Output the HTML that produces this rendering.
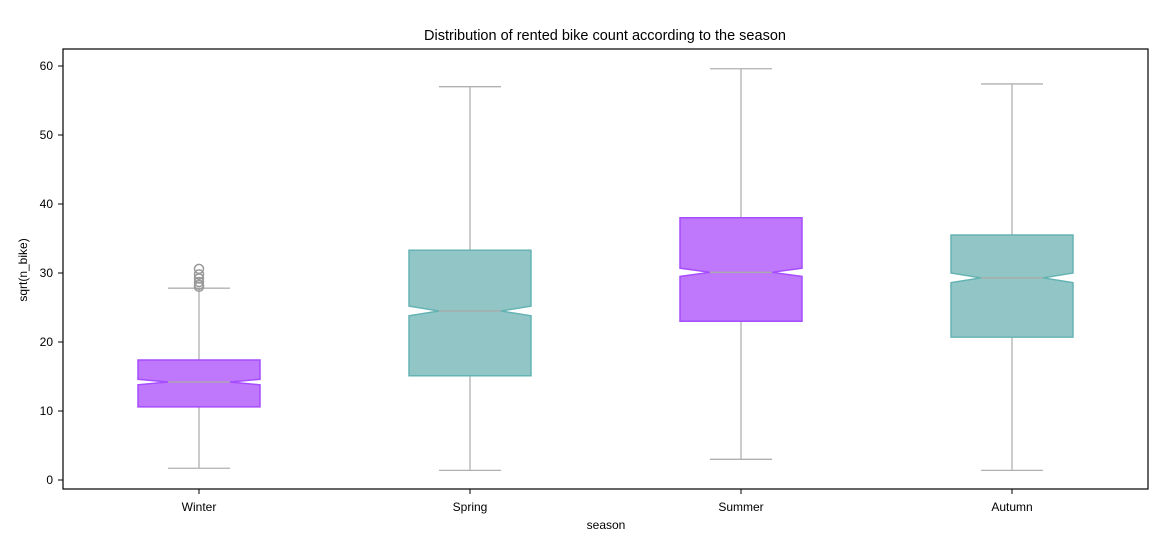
<!DOCTYPE html>
<html><head><meta charset="utf-8"><style>body{margin:0;background:#fff}svg{display:block;font-family:"Liberation Sans","DejaVu Sans",sans-serif}</style></head>
<body>
<svg id="chart" width="1175" height="557" xmlns="http://www.w3.org/2000/svg">
<rect width="1175" height="557" fill="#fff"/>
<text x="605" y="40" font-size="14.5" text-anchor="middle">Distribution of rented bike count according to the season</text>
<g id="plot"></g>
<rect x="63" y="49" width="1085" height="440" fill="none" stroke="#000" stroke-width="1.2"/>
<text x="606" y="529" font-size="12" text-anchor="middle">season</text>
<text transform="translate(27,270) rotate(-90)" font-size="12" text-anchor="middle">sqrt(n_bike)</text>
</svg>
<script>
const categories=["Winter","Spring","Summer","Autumn"];
const q1=[10.6,15.1,23.0,20.7];
const q3=[17.4,33.3,38.0,35.5];
const medians=[14.2,24.5,30.1,29.3];
const notchLo=[13.8,23.8,29.5,28.6];
const notchHi=[14.6,25.2,30.7,30.0];
const whiskLo=[1.7,1.4,3.0,1.4];
const whiskHi=[27.8,57.0,59.6,57.4];
const outliers=[[28.0,28.3,28.7,29.2,29.8,30.6],[],[],[]];
const yTicks=[0,10,20,30,40,50,60];
const svg=document.getElementById('plot');
const NS='http://www.w3.org/2000/svg';
const y=v=>480-6.9*v;
const x=i=>199+271*i;
const fills=['#bf77fb','#92c6c6'],strokes=['#a64dff','#66b3b3'];
function mk(t,a){const e=document.createElementNS(NS,t);for(const k in a)e.setAttribute(k,a[k]);svg.appendChild(e);return e;}
yTicks.forEach(t=>{
  const l=mk('line',{x1:58,x2:63,y1:y(t),y2:y(t),stroke:'#000'});
  
  
  const tx=mk('text',{x:53,y:y(t)+4,'font-size':12,'text-anchor':'end'});tx.textContent=t;
  
  
});
categories.forEach((c,i)=>{
  const cx=x(i),hw=61,nw=31;
  const l=mk('line',{x1:cx,x2:cx,y1:489,y2:494,stroke:'#000'});
  
  
  const tx=mk('text',{x:cx,y:511,'font-size':12,'text-anchor':'middle'});tx.textContent=c;
  
  
  const wc='#b0b0b0';
  const w1=mk('line',{x1:cx,x2:cx,y1:y(whiskLo[i]),y2:y(q1[i]),stroke:wc,'stroke-width':1.3});
  
  
  const w2=mk('line',{x1:cx,x2:cx,y1:y(whiskHi[i]),y2:y(q3[i]),stroke:wc,'stroke-width':1.3});
  
  
  [whiskLo[i],whiskHi[i]].forEach(v=>{const cp=mk('line',{x1:cx-nw,x2:cx+nw,y1:y(v),y2:y(v),stroke:wc,'stroke-width':1.3});
    
    });
  const pts=[[cx-hw,y(q1[i])],[cx+hw,y(q1[i])],[cx+hw,y(notchLo[i])],[cx+nw,y(medians[i])],[cx+hw,y(notchHi[i])],[cx+hw,y(q3[i])],[cx-hw,y(q3[i])],[cx-hw,y(notchHi[i])],[cx-nw,y(medians[i])],[cx-hw,y(notchLo[i])]];
  const b=mk('polygon',{points:pts.map(p=>p.join(',')).join(' '),fill:fills[i%2],stroke:strokes[i%2],'stroke-width':1.5});
  
  
  const m=mk('line',{x1:cx-nw,x2:cx+nw,y1:y(medians[i]),y2:y(medians[i]),stroke:'#aaa','stroke-width':1.3});
  
  
  outliers[i].forEach(v=>{const o=mk('circle',{cx:cx,cy:y(v),r:4.5,fill:'none',stroke:'#999','stroke-width':1.5});
    
    });
});
</script>
</body></html>
